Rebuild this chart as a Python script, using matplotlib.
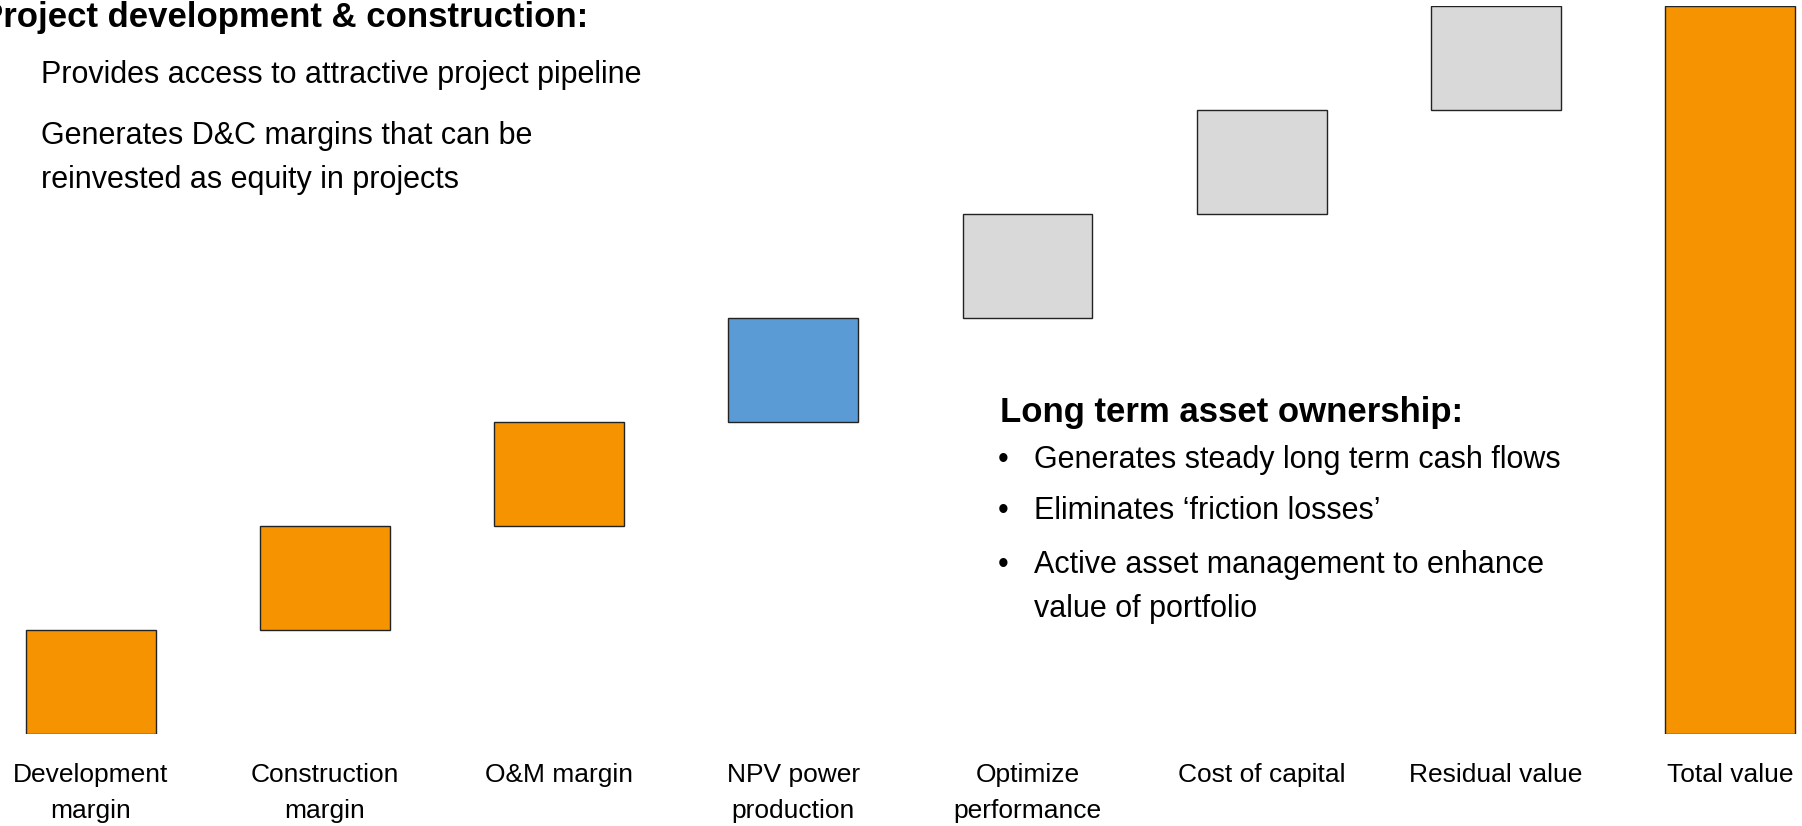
import matplotlib
matplotlib.use("Agg")
import matplotlib.pyplot as plt
import matplotlib.transforms as mtransforms
import numpy as np

# ---- data ----
categories = ["Development\nmargin", "Construction\nmargin", "O&M margin",
              "NPV power\nproduction", "Optimize\nperformance", "Cost of capital",
              "Residual value", "Total value"]
increments = [1, 1, 1, 1, 1, 1, 1]
total_value = 7
bar_colors = ["#F59400", "#F59400", "#F59400", "#5B9BD5",
              "#D9D9D9", "#D9D9D9", "#D9D9D9", "#F59400"]

left_title = "Project development & construction:"
left_lines = ["Provides access to attractive project pipeline",
              "Generates D&C margins that can be",
              "reinvested as equity in projects"]
right_title = "Long term asset ownership:"
right_bullets = [["Generates steady long term cash flows"],
                 ["Eliminates \u2018friction losses\u2019"],
                 ["Active asset management to enhance", "value of portfolio"]]

plt.rcParams['font.family'] = ["Liberation Sans", "DejaVu Sans"]

W, H = 1802, 826
fig = plt.figure(figsize=(W / 100, H / 100), dpi=100)

def fx(px):
    return px / W

def fy(py):
    return 1 - py / H

bottom_px, top_px = 734.3, 6.3
ax = fig.add_axes([0, fy(bottom_px), 1, (bottom_px - top_px) / H])

values = list(increments) + [total_value]
bottoms = list(np.concatenate([[0], np.cumsum(increments)[:-1]])) + [0]
x = np.arange(len(categories))
ax.bar(x, values, bottom=bottoms, width=0.555, color=bar_colors,
       edgecolor="#222222", linewidth=1.0)

c0, step = 90.7, 234.2
ax.set_xlim((0 - c0) / step, (W - c0) / step)
ax.set_ylim(0, total_value)
ax.axis("off")

# category labels (data x, figure y)
trans = mtransforms.blended_transform_factory(ax.transData, fig.transFigure)
label_baselines = [782.3, 818.0]
for i, cat in enumerate(categories):
    for j, line in enumerate(cat.split("\n")):
        ax.text(i, fy(label_baselines[j]), line, transform=trans,
                ha="center", va="baseline", fontsize=19, color="black",
                clip_on=False)

# left annotation
fig.text(fx(588), fy(27), left_title, ha="right", va="baseline",
         fontsize=25, fontweight="bold", color="black")
for line, base in zip(left_lines, [82.7, 143.6, 188.4]):
    fig.text(fx(41), fy(base), line, ha="left", va="baseline",
             fontsize=22, color="black")

# right annotation
fig.text(fx(1000), fy(422), right_title, ha="left", va="baseline",
         fontsize=25, fontweight="bold", color="black")
bullet_bases = [[467.7], [519.3], [572.7, 616.7]]
for lines, bases in zip(right_bullets, bullet_bases):
    fig.text(fx(998), fy(bases[0]), "\u2022", ha="left", va="baseline",
             fontsize=22, color="black")
    for line, base in zip(lines, bases):
        fig.text(fx(1034), fy(base), line, ha="left", va="baseline",
                 fontsize=22, color="black")

fig.savefig("out.png", dpi=100)
